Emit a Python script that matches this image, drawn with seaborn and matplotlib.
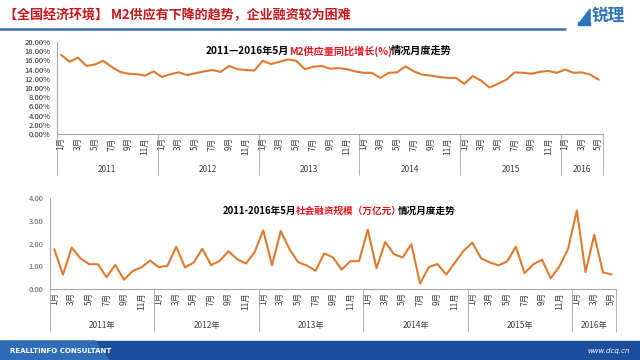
import numpy as np
import pandas as pd
import matplotlib
matplotlib.use("Agg")
import matplotlib.pyplot as plt
import seaborn as sns
from matplotlib.lines import Line2D
from matplotlib.patches import Rectangle, Polygon

# dados (jan/2011 - mai/2016)
years = ['2011', '2012', '2013', '2014', '2015', '2016']
months_per_year = [12, 12, 12, 12, 12, 5]

m2_growth = [17.2, 15.7, 16.6, 14.8, 15.1, 15.9, 14.6, 13.5, 13.1, 13.0, 12.7, 13.6,
             12.4, 13.0, 13.4, 12.8, 13.2, 13.6, 13.9, 13.5, 14.8, 14.1, 13.9, 13.8,
             15.9, 15.2, 15.7, 16.2, 15.9, 14.1, 14.6, 14.8, 14.2, 14.3, 14.1, 13.6,
             13.3, 13.3, 12.2, 13.3, 13.4, 14.7, 13.6, 12.9, 12.7, 12.4, 12.2, 12.2,
             10.9, 12.6, 11.6, 10.1, 10.9, 11.8, 13.4, 13.3, 13.1, 13.5, 13.7, 13.3,
             14.0, 13.3, 13.4, 12.9, 11.8]

social_fin = [1.75, 0.63, 1.82, 1.35, 1.09, 1.09, 0.52, 1.06, 0.41, 0.79, 0.95, 1.25,
              0.96, 1.02, 1.86, 0.95, 1.16, 1.77, 1.05, 1.24, 1.66, 1.31, 1.12, 1.62,
              2.58, 1.04, 2.55, 1.76, 1.18, 1.03, 0.80, 1.57, 1.39, 0.85, 1.22, 1.23,
              2.61, 0.91, 2.07, 1.53, 1.39, 1.97, 0.24, 0.96, 1.10, 0.63, 1.16, 1.68,
              2.04, 1.35, 1.17, 1.04, 1.21, 1.86, 0.70, 1.08, 1.29, 0.47, 0.99, 1.77,
              3.45, 0.74, 2.38, 0.73, 0.64]

header = '【全国经济环境】 M2供应有下降的趋势，企业融资较为困难'
title_top = [('2011—2016年5月', 'black'), ('M2供应量同比增长(%)', '#E8141B'), ('情况月度走势', 'black')]
title_bot = [('2011-2016年5月', 'black'), ('社会融资规模（万亿元）', '#E8141B'), ('情况月度走势', 'black')]

sns.set_style('white')
plt.rcParams['font.family'] = ['Noto Sans CJK SC', 'DejaVu Sans']

month_idx = [m for n in months_per_year for m in range(1, n + 1)]
df = pd.DataFrame({'i': np.arange(len(month_idx)), 'month': month_idx,
                   'm2': m2_growth, 'sf': social_fin})

line_color = '#E07A2E'
axis_gray = '#A6A6A6'

fig = plt.figure(figsize=(6.4, 3.6), dpi=100)
ax1 = fig.add_axes([0.089, 0.6278, 0.853, 0.2556])
ax2 = fig.add_axes([0.078, 0.1972, 0.8845, 0.2528])

sns.lineplot(data=df, x='i', y='m2', ax=ax1, color=line_color, linewidth=1.5)
sns.lineplot(data=df, x='i', y='sf', ax=ax2, color=line_color, linewidth=1.5)


def style_axis(ax, year_suffix, label_color, ymax, step, fmt, year_line_len, year_label_y):
    n = len(df)
    ax.set_xlim(-0.5, n - 0.5)
    ax.set_ylim(0, ymax)
    yt = np.arange(0, ymax + step / 2, step)
    ax.set_yticks(yt)
    ax.set_yticklabels([fmt(v) for v in yt], fontsize=5.5, color=label_color)
    ax.set_xlabel('')
    ax.set_ylabel('')
    for s in ['top', 'right']:
        ax.spines[s].set_visible(False)
    for s in ['left', 'bottom']:
        ax.spines[s].set_color(axis_gray)
        ax.spines[s].set_linewidth(0.8)
    ax.tick_params(axis='y', direction='out', length=3, width=0.6, color=axis_gray, pad=1.5)
    # rótulos de meses ímpares
    odd = df[df['month'] % 2 == 1]
    ax.set_xticks(odd['i'], [f'{m}月' for m in odd['month']], rotation=90,
                  fontsize=6, color='#404040')
    ax.tick_params(axis='x', which='major', length=0, pad=2.5)
    bounds = list(np.arange(-0.5, n - 0.5, 2)) + [n - 0.5]
    ax.set_xticks(bounds, minor=True)
    ax.tick_params(axis='x', which='minor', direction='out', length=17, width=0.6, color=axis_gray)
    # linhas e rótulos de ano
    start = 0
    trans = ax.get_xaxis_transform()
    edges = [-0.5]
    for y, n_m in zip(years, months_per_year):
        ax.text(start + (n_m - 1) / 2, year_label_y, y + year_suffix, transform=trans,
                ha='center', va='center', fontsize=6, color='#404040')
        start += n_m
        edges.append(start - 0.5)
    ax.vlines(edges, year_line_len, 0, transform=trans, colors=axis_gray,
              linewidth=0.6, clip_on=False)


style_axis(ax1, '', '#262626', 20, 2, lambda v: f'{v:.2f}%', -0.446, -0.39)
style_axis(ax2, '年', '#595959', 4, 1, lambda v: f'{v:.2f}', -0.473, -0.405)


def rich_title(ax, x, y, parts, size, last_shift):
    t = fig.text(x, y, parts[0][0], color=parts[0][1], fontsize=size,
                 fontweight='bold', va='center', ha='left')
    for k, (s, c) in enumerate(parts[1:]):
        shift = last_shift if k == 1 else 0
        t = ax.annotate(s, xy=(1, 0.5), xycoords=t, xytext=(shift, 0),
                        textcoords='offset points', va='center', ha='left',
                        color=c, fontsize=size, fontweight='bold', annotation_clip=False)


rich_title(ax1, 0.322, 0.858, title_top, 7.3, -1.0)
rich_title(ax2, 0.348, 0.414, title_bot, 6.9, -3.0)

# cabeçalho
fig.text(0.006, 0.958, header, color='#C8161D', fontsize=9.4, fontweight='bold', va='center')
fig.add_artist(Line2D([0, 0.883], [0.919, 0.919], color='#3A6EB5', linewidth=1.8))
fig.add_artist(Polygon([[0.905, 0.935], [0.922, 0.975], [0.922, 0.935]], closed=True,
                       color='#2B74C0'))
fig.add_artist(Rectangle((0.903, 0.93), 0.019, 0.008, color='#2B74C0'))
fig.text(0.925, 0.955, '锐理', color='#2B74C0', fontsize=12, fontweight='bold', va='center')

# rodapé
fig.add_artist(Rectangle((0, 0), 1, 0.053, color='#1D4E9E', zorder=0))
fig.add_artist(Polygon([[0, 0], [0.17, 0], [0.148, 0.053], [0, 0.053]], closed=True,
                       color='#2F6DB8', zorder=0))
fig.text(0.015, 0.026, 'REALLTINFO CONSULTANT', color='white', fontsize=5,
         fontweight='bold', va='center', family='DejaVu Sans')
fig.text(0.985, 0.026, 'www.dcq.cn', color='white', fontsize=5, style='italic',
         va='center', ha='right', family='DejaVu Sans')

plt.savefig('out.png', dpi=100)
